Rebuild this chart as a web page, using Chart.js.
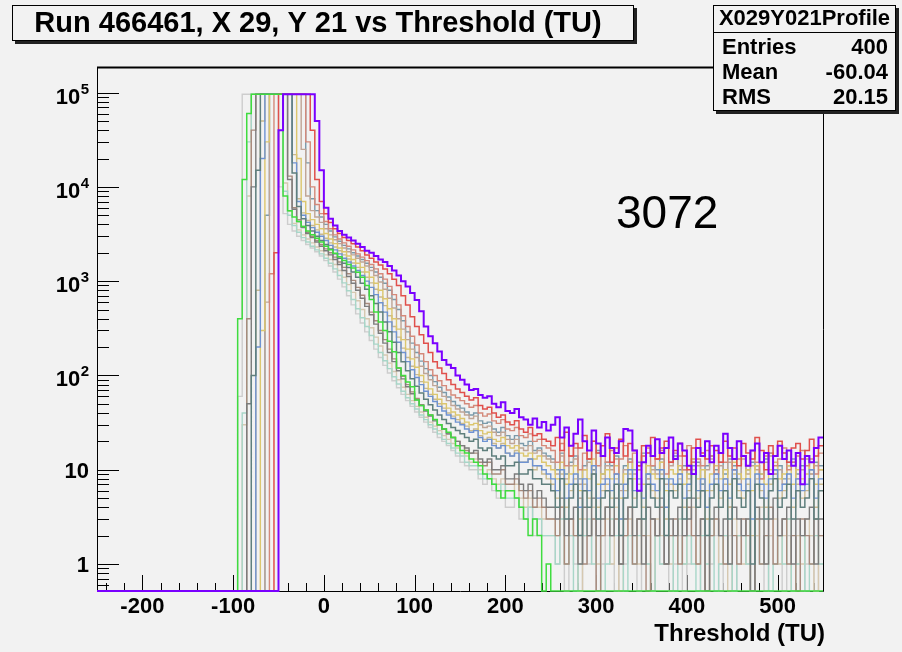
<!DOCTYPE html>
<html><head><meta charset="utf-8">
<script src="https://cdn.jsdelivr.net/npm/chart.js@4/dist/chart.umd.min.js"></script>
<style>html,body{margin:0;padding:0;background:#f2f2f2;}canvas{display:block;}</style>
</head><body>
<canvas id="c" width="902" height="652"></canvas>
<script>
// ---- axis / bins ----
const binStart = -100, binWidth = 5;
const xMin = -250, xMax = 550;
const yMin = 0.517, yMax = 1.87e5;
const xTickLabels = [-200, -100, 0, 100, 200, 300, 400, 500];
const yTickValues = [1, 10, 1e2, 1e3, 1e4, 1e5];
const yTickBase = ['1', '10', '10', '10', '10', '10'];
const yTickExp = ['', '', '2', '3', '4', '5'];
const titleText = 'Run 466461, X 29, Y 21 vs Threshold (TU)';
const xAxisTitle = 'Threshold (TU)';
const statsTitle = 'X029Y021Profile';
const statsLabels = ['Entries', 'Mean', 'RMS'];
const statsValues = ['400', '-60.04', '20.15'];
const annotation = '3072';

// ---- series values, one per 5 TU bin from -100 to 550 ----
const purple = [0,0,0,0,0,0,0,0,0,0,40000,96000,96000,96000,96000,96000,96000,96000,50000,15000,
 6000,4600,3900,3400,3100,2900,2700,2500,2300,2100,
 2000,1850,1700,1600,1450,1300,1150,1000,880,750,630,480,330,260,220,180,146,130,120,100,
 90,80,70,72,62,58,60,50,46,52,42,40,44,36,34,30,35,28,32,26,
 30,36,22,28,18,24,34,20,16,26,19,14,22,17,15,20,27,26,16,6,12,18,14,21,15,17,22,13,19,16,
 11,9,17,14,20,12,18,15,24,17,13,20,14,11,16,19,12,15,9,14,18,13,16,11,15,7,14,12,17,22];
const red = [0,0,0,0,0,0,0,0,0,2000,96000,96000,96000,96000,96000,96000,96000,40000,12000,7000,
 5200,4200,3600,3200,2900,2700,2500,2300,2100,1900,
 1750,1600,1480,1350,1200,1050,900,700,560,420,330,270,220,175,140,120,105,90,80,72,
 66,60,55,58,48,44,46,40,36,38,32,30,33,27,25,28,23,24,21,20,
 18,22,16,25,14,19,17,23,13,20,15,18,24,12,17,21,14,19,16,11,18,15,22,13,17,20,12,16,19,14,
 10,17,21,15,13,18,16,12,20,14,17,11,19,15,13,22,16,10,18,14,20,15,12,17,19,13,16,21,14,18];
const salmon = [0,0,0,0,0,0,0,0,1200,96000,96000,96000,96000,96000,96000,96000,30000,10000,6500,5200,
 4300,3600,3100,2800,2550,2350,2150,1950,1800,1650,
 1500,1350,1200,1050,880,720,560,430,330,260,210,170,140,115,100,88,78,70,62,58,
 54,50,46,48,40,37,39,33,31,34,27,26,28,23,22,24,20,21,18,17,
 16,12,19,11,14,17,10,15,13,20,11,14,12,16,9,13,18,12,15,10,14,17,11,13,16,9,12,15,14,10,
 18,12,13,11,16,14,9,15,12,17,10,13,14,11,16,12,8,14,15,11,13,17,10,12,14,16,11,13,9,15];
const steel = [0,0,0,0,0,0,0,5000,96000,96000,96000,96000,96000,96000,96000,96000,18000,7500,5600,4800,
 4000,3400,2950,2650,2400,2200,2000,1850,1700,1550,
 1400,1250,1100,950,800,640,500,380,290,220,175,142,118,100,86,75,66,59,53,48,
 45,41,38,40,33,31,32,27,25,28,23,21,23,19,18,20,16,17,15,14,
 13,10,15,9,12,14,8,11,13,10,16,9,12,11,14,7,11,13,10,12,15,9,11,10,13,8,12,14,10,11,
 9,13,12,7,11,14,10,12,9,13,11,8,14,10,12,11,9,13,15,10,11,8,12,13,9,11,14,10,12,11];
const tan = [0,0,0,0,0,0,0,600,96000,96000,96000,96000,96000,96000,96000,25000,8000,5600,4800,4200,
 3600,3100,2750,2500,2250,2050,1900,1750,1600,1450,
 1300,1150,980,820,660,520,400,310,240,190,155,125,105,90,78,68,60,54,48,44,
 41,38,35,37,30,28,29,25,23,25,21,19,21,17,16,18,15,16,14,13,
 12,9,14,8,11,13,7,10,12,9,15,8,11,10,13,6,10,12,9,11,14,8,10,9,12,7,11,13,9,10,
 8,12,11,6,10,13,9,11,8,12,10,7,13,9,11,10,8,12,14,9,10,7,11,12,8,10,13,9,11,10];
const yellow = [0,0,0,0,0,0,300,30000,96000,96000,96000,96000,96000,96000,20000,7000,5200,4500,4000,3600,
 3200,2800,2500,2250,2050,1850,1700,1550,1400,1250,
 1100,950,800,650,510,400,310,240,190,150,122,100,85,72,63,56,50,45,41,38,
 35,32,30,31,26,24,25,21,20,22,18,17,18,15,14,15,13,14,12,11,
 10,8,12,7,9,11,6,10,8,13,7,9,10,8,11,5,9,12,8,10,7,11,9,8,12,6,10,9,11,7,
 9,13,8,10,6,9,11,8,10,7,12,9,8,10,6,11,9,7,10,12,8,9,11,7,10,8,9,12,7,10];
const khaki = [0,0,0,0,0,800,50000,96000,96000,96000,96000,96000,96000,22000,7500,5300,4400,3900,3500,3150,
 2850,2550,2300,2100,1900,1720,1560,1400,1250,1100,
 960,820,680,550,430,330,255,195,155,125,102,86,73,63,56,50,45,40,37,34,
 31,29,26,27,23,21,22,19,17,19,15,14,16,12,12,13,10,11,9,8,
 7,5,9,4,6,8,3,7,5,10,4,6,7,5,8,3,6,9,5,7,4,8,6,5,9,3,7,6,8,4,
 6,10,5,7,3,6,8,5,7,4,9,6,5,7,2,8,6,4,7,9,5,6,8,4,7,5,6,9,4,7];
const blue = [0,0,0,0,0,200,20000,96000,96000,96000,96000,96000,96000,18000,7000,5000,4200,3700,3300,3000,
 2700,2400,2150,1950,1750,1600,1450,1300,1150,1000,
 860,720,590,470,370,290,225,175,140,115,95,80,68,60,53,47,42,38,35,32,
 30,27,25,26,22,20,21,18,17,18,15,14,15,12,12,13,11,11,10,9,
 8,6,10,5,7,9,4,8,6,11,5,7,8,6,9,3,7,10,6,8,5,9,7,6,10,4,8,7,9,5,
 7,11,6,8,4,7,9,6,8,5,10,7,6,8,3,9,7,5,8,10,6,7,9,5,8,6,7,10,5,8];
const slate = [0,0,0,0,100,15000,96000,96000,96000,96000,96000,96000,96000,14000,6200,4600,3900,3400,3000,2700,
 2450,2200,1950,1750,1550,1400,1250,1100,950,820,
 700,580,470,370,290,225,175,140,112,92,77,65,56,49,43,38,34,31,28,26,
 24,22,20,21,17,16,17,14,13,14,11,11,12,9,9,10,8,8,7,7,
 6,4,8,3,5,7,2,6,4,9,3,5,6,4,7,2,5,8,4,6,3,7,5,4,8,2,6,5,7,3,
 5,9,4,6,2,5,7,4,6,3,8,5,4,6,1,7,5,3,6,8,4,5,7,3,6,4,5,8,3,6];
const brown = [0,0,0,400,40000,96000,96000,96000,96000,96000,96000,96000,13000,6000,4500,3800,3300,3000,2700,2450,
 2200,2000,1800,1600,1400,1200,1020,860,710,580,
 470,380,300,240,190,150,120,98,80,67,57,49,43,38,34,30,27,24,22,20,
 18,16,15,15,12,11,12,9,9,10,7,7,8,6,5,6,4,5,4,3,
 3,2,4,1,3,2,5,1,2,3,0,2,4,2,3,1,2,4,1,3,2,0,3,2,4,1,2,3,1,2,
 4,2,1,3,0,2,3,2,1,4,2,1,3,2,0,3,1,2,4,1,2,3,1,2,0,3,2,1,3,2];
const gray = [0,0,0,50,10000,96000,96000,96000,96000,96000,96000,96000,12000,5800,4300,3700,3200,2900,2600,2350,
 2100,1900,1700,1500,1300,1120,950,800,660,540,
 440,350,280,220,175,140,112,92,76,64,55,48,42,37,33,30,27,24,22,20,
 18,17,15,16,13,12,13,10,10,11,8,8,9,7,6,7,5,6,5,4,
 4,3,5,2,3,4,1,4,2,5,2,3,4,2,5,1,3,4,2,3,1,4,3,2,5,1,3,2,4,2,
 3,5,2,3,0,3,4,2,3,1,4,3,2,3,0,4,3,1,3,5,2,3,4,1,3,2,3,4,1,3];
const beige = [0,0,30,8000,96000,96000,96000,96000,96000,96000,96000,11000,5500,4100,3500,3100,2800,2550,2300,2100,
 1900,1700,1500,1300,1100,920,760,620,500,400,
 320,255,205,165,135,110,90,75,63,54,47,41,36,32,29,26,23,21,19,17,
 15,14,12,13,10,9,10,8,7,8,6,6,7,5,4,5,4,4,3,3,
 3,2,4,1,3,2,0,3,2,4,1,2,3,1,4,0,2,3,2,1,3,2,0,3,2,4,1,2,3,1,
 2,4,1,3,0,2,3,1,2,0,3,2,1,3,0,2,4,1,2,3,1,2,3,0,2,1,3,2,0,2];
const teal = [0,0,40,30000,96000,96000,96000,96000,96000,96000,96000,9000,5000,3900,3300,2900,2600,2350,2150,1950,
 1750,1550,1350,1150,960,790,640,510,410,330,
 265,215,175,143,118,97,81,68,58,50,44,38,34,30,27,24,21,19,17,15,
 14,12,11,11,9,8,9,7,6,7,5,5,5,4,3,4,3,3,2,2,
 2,1,3,1,2,0,1,2,3,1,2,0,1,3,2,1,0,2,1,2,3,1,0,2,1,1,2,0,3,1,
 2,1,0,2,1,3,0,1,2,1,0,2,2,1,0,3,1,2,0,1,2,1,3,0,1,2,0,1,2,1];
const lightgray = [0,60,96000,96000,96000,96000,96000,96000,96000,96000,10000,5200,4000,3400,3000,2700,2450,2250,2050,1850,
 1650,1450,1250,1050,870,700,560,450,360,290,
 235,190,155,128,106,88,74,63,54,47,41,36,32,28,25,22,20,18,16,14,
 12,11,10,10,8,7,8,6,5,6,4,4,5,3,3,4,2,3,2,2,
 2,1,3,0,2,1,0,2,1,3,0,1,2,1,0,2,1,3,1,0,2,1,0,2,1,3,0,1,2,0,
 1,2,1,0,3,1,2,0,1,2,0,1,3,1,0,2,1,0,2,1,1,0,2,3,1,0,1,2,0,1];
const green = [0,400,12000,60000,96000,96000,96000,96000,96000,96000,96000,8000,5600,4800,4300,3800,3400,3100,2850,2600,
 2350,2150,1980,1820,1660,1500,1380,1240,1100,900,
 640,470,370,300,230,178,120,100,85,76,55,48,43,38,34,30,27,25,22,18,
 16,15,13,12,11,9,8,7,6,5,6,6,5,4,3,2,3,2,0,1,
 0,0,0,0,0,0,0,0,0,0,0,0,0,0,0,0,0,0,0,0,0,0,0,0,0,0,0,0,0,0,
 0,0,0,0,0,0,0,0,0,0,0,0,0,0,0,0,0,0,0,0,0,0,0,0,0,0,0,0,0,0];

// drawn first = on top
const seriesList = [purple, green, red, slate, blue, salmon, yellow, gray, tan, steel, khaki, brown, teal, beige, lightgray];
const seriesColors = ['#7a00ff', '#3fdc3f', '#e0504c', '#5f7f7d', '#6e92d2', '#d4897a', '#dcc66e', '#7c7c7c',
  '#bfa596', '#7a9aaa', '#c9b98f', '#a88a7c', '#a8d6c8', '#d6c8b0', '#cdcdcd'];
const seriesWidths = [2, 1.5, 1.5, 1.5, 1.4, 1.4, 1.4, 1.4, 1.4, 1.4, 1.4, 1.4, 1.4, 1.4, 1.4];

function toPoints(vals) {
  const pts = [{x: xMin, y: yMin}];
  vals.forEach((v, i) => pts.push({x: binStart + i * binWidth, y: v > 0 ? v : yMin}));
  const last = vals[vals.length - 1];
  pts.push({x: binStart + vals.length * binWidth, y: last > 0 ? last : yMin});
  return pts;
}

const datasets = seriesList.map((vals, i) => ({
  data: toPoints(vals),
  borderColor: seriesColors[i],
  borderWidth: seriesWidths[i],
  pointRadius: 0,
  fill: false,
  stepped: 'before',
  clip: {left: 0, top: 0, right: 0, bottom: 2}
}));

const FONT = "'Liberation Sans', Arial, Helvetica, sans-serif";

const rootPlugin = {
  id: 'rootDecor',
  beforeDraw(chart) {
    const ctx = chart.ctx;
    ctx.save();
    ctx.fillStyle = '#f2f2f2';
    ctx.fillRect(0, 0, chart.width, chart.height);
    ctx.restore();
  },
  beforeDatasetsDraw(chart) {
    const {ctx, chartArea: a, scales: {x, y}} = chart;
    ctx.save();
    ctx.strokeStyle = '#000';
    ctx.lineWidth = 1;
    ctx.beginPath();
    ctx.moveTo(a.left + 0.5, a.top);
    ctx.lineTo(a.left + 0.5, a.bottom + 0.5);
    ctx.lineTo(a.right + 0.5, a.bottom + 0.5);
    ctx.lineTo(a.right + 0.5, a.top);
    ctx.stroke();
    ctx.lineWidth = 2;
    ctx.beginPath();
    ctx.moveTo(a.left, a.top + 0.5);
    ctx.lineTo(a.right + 1, a.top + 0.5);
    ctx.stroke();
    ctx.lineWidth = 1;
    ctx.beginPath();
    for (let t = -240; t <= 540; t += 20) {
      const px = Math.round(x.getPixelForValue(t)) + 0.5;
      const len = (t % 100 === 0) ? 16 : 8;
      ctx.moveTo(px, a.bottom);
      ctx.lineTo(px, a.bottom - len);
    }
    for (let d = -1; d <= 5; d++) {
      for (let m = 1; m <= 9; m++) {
        const v = m * Math.pow(10, d);
        if (v < yMin || v > yMax) continue;
        const py = Math.round(y.getPixelForValue(v)) + 0.5;
        const len = (m === 1) ? 22 : 12;
        ctx.moveTo(a.left, py);
        ctx.lineTo(a.left + len, py);
      }
    }
    ctx.stroke();
    ctx.restore();
  },
  afterDraw(chart) {
    const {ctx, chartArea: a, scales: {x, y}} = chart;
    ctx.save();
    ctx.fillStyle = '#000';
    yTickValues.forEach((v, i) => {
      const py = y.getPixelForValue(v);
      const right = 89;
      if (yTickExp[i]) {
        ctx.font = 'bold 15px ' + FONT;
        const ew = ctx.measureText(yTickExp[i]).width;
        ctx.textAlign = 'right'; ctx.textBaseline = 'alphabetic';
        ctx.fillText(yTickExp[i], right, py + 1);
        ctx.font = 'bold 22px ' + FONT;
        ctx.fillText(yTickBase[i], right - ew - 0.5, py + 11);
      } else {
        ctx.font = 'bold 22px ' + FONT;
        ctx.textAlign = 'right'; ctx.textBaseline = 'alphabetic';
        ctx.fillText(yTickBase[i], right, py + 8);
      }
    });
    ctx.font = 'bold 22px ' + FONT;
    ctx.textAlign = 'center'; ctx.textBaseline = 'middle';
    xTickLabels.forEach(t => ctx.fillText(String(t), x.getPixelForValue(t), 607));
    ctx.font = 'bold 24px ' + FONT;
    ctx.textAlign = 'right';
    ctx.fillText(xAxisTitle, 825, 634);

    // title box
    ctx.fillStyle = '#222';
    ctx.fillRect(15, 41, 622, 3);
    ctx.fillRect(634, 8, 3, 36);
    ctx.fillStyle = '#f2f2f2';
    ctx.fillRect(12, 5, 622, 36);
    ctx.strokeStyle = '#000'; ctx.lineWidth = 1;
    ctx.strokeRect(12.5, 5.5, 621, 35);
    ctx.fillStyle = '#000';
    ctx.font = 'bold 29px ' + FONT;
    ctx.textAlign = 'center'; ctx.textBaseline = 'middle';
    ctx.fillText(titleText, 318, 24);

    // stats box
    const bx = 713, by = 5, bw = 183, bh = 106;
    ctx.fillStyle = '#222';
    ctx.fillRect(bx + 3, by + bh, bw, 3);
    ctx.fillRect(bx + bw, by + 3, 3, bh);
    ctx.fillStyle = '#f2f2f2';
    ctx.fillRect(bx, by, bw, bh);
    ctx.strokeRect(bx + 0.5, by + 0.5, bw - 1, bh - 1);
    ctx.beginPath();
    ctx.moveTo(bx, 32.5); ctx.lineTo(bx + bw, 32.5);
    ctx.stroke();
    ctx.fillStyle = '#000';
    ctx.font = 'bold 22px ' + FONT;
    ctx.textAlign = 'center'; ctx.textBaseline = 'middle';
    ctx.fillText(statsTitle, bx + bw / 2, 19);
    const rowsY = [48, 73, 98];
    statsLabels.forEach((lab, i) => {
      ctx.textAlign = 'left';
      ctx.fillText(lab, 722, rowsY[i]);
      ctx.textAlign = 'right';
      ctx.fillText(statsValues[i], 888, rowsY[i]);
    });

    ctx.font = '46px ' + FONT;
    ctx.textAlign = 'left'; ctx.textBaseline = 'alphabetic';
    ctx.fillText(annotation, 616, 228);
    ctx.restore();
  }
};

new Chart(document.getElementById('c'), {
  type: 'line',
  data: {datasets},
  options: {
    responsive: false,
    animation: false,
    devicePixelRatio: 1,
    layout: {padding: {left: 97, top: 67, right: 79, bottom: 61}},
    plugins: {legend: {display: false}, tooltip: {enabled: false}, title: {display: false}},
    scales: {
      x: {type: 'linear', min: xMin, max: xMax, display: false},
      y: {type: 'logarithmic', min: yMin, max: yMax, display: false}
    },
    elements: {line: {tension: 0}}
  },
  plugins: [rootPlugin]
});
</script>
</body></html>
